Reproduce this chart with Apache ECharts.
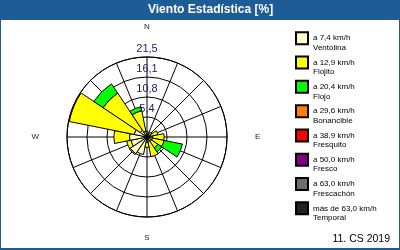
<!DOCTYPE html>
<html><head><meta charset="utf-8">
<script src="https://cdn.jsdelivr.net/npm/echarts@6/dist/echarts.min.js"></script>
<style>html,body{margin:0;padding:0;background:#fff}#c{width:400px;height:250px}</style>
</head><body><div id="c"></div>
<script>
const directions = ['N','NNE','NE','ENE','E','ESE','SE','SSE','S','SSW','SW','WSW','W','WNW','NW','NNW'];
const ringLabels = ['5,4','10,8','16,1','21,5'];
const speedLabels = ['a 7,4 km/h','a 12,9 km/h','a 20,4 km/h','a 29,6 km/h','a 38,9 km/h','a 50,0 km/h','a 63,0 km/h','más de 63,0 km/h'];
const beaufortNames = ['Ventolina','Flojito','Flojo','Bonancible','Fresquito','Fresco','Frescachón','Temporal'];

const ventolina  = [0.8, 0.6, 0.7, 1.0, 1.5, 1.5, 1.3, 1.2, 1.5, 4.8, 5.4, 4.4, 4.7, 3.5, 2.2, 1.6];
const flojito    = [0.7, 0.5, 0.8, 2.0, 3.1, 3.2, 2.2, 4.2, 1.3, 0.0, 0.3, 1.2, 4.2, 17.8, 12.0, 5.6];
const flojo      = [0, 0, 0, 0, 0, 5.0, 1.3, 0, 0, 0, 0, 0, 0, 0, 3.0, 1.1];
const bonancible = [0, 0, 0, 0, 0, 0, 0, 0, 0, 0, 0, 0, 0, 0, 0, 0];
const fresquito  = [0, 0, 0, 0, 0, 0, 0, 0, 0, 0, 0, 0, 0, 0, 0, 0];
const fresco     = [0, 0, 0, 0, 0, 0, 0, 0, 0, 0, 0, 0, 0, 0, 0, 0];
const frescachon = [0, 0, 0, 0, 0, 0, 0, 0, 0, 0, 0, 0, 0, 0, 0, 0];
const temporal   = [0, 0, 0, 0, 0, 0, 0, 0, 0, 0, 0, 0, 0, 0, 0, 0];
const seriesValues = [ventolina, flojito, flojo, bonancible, fresquito, fresco, frescachon, temporal];
const colors = ['#ffffc6','#ffff00','#00ff00','#ff8000','#ff0000','#800080','#6e6e6e','#222222'];

const chart = echarts.init(document.getElementById('c'), null, {renderer:'canvas'});
const C = [147, 137], R = 80;
const FONT = 'Liberation Sans';

chart.setOption({
  animation: false,
  title: [
    {text: 'Viento Estadística [%]', left: 148, top: 4, padding: 0,
     textStyle: {color:'#fff', fontSize:12, fontWeight:'bold', fontFamily: FONT}},
    {text: '11. CS 2019', right: 10, bottom: 5, padding: 0,
     textStyle: {color:'#000', fontSize:10.5, fontWeight:'normal', fontFamily: FONT}}
  ],
  graphic: [
    {type:'rect', z:-1, shape:{x:0,y:0,width:400,height:20}, style:{fill:'#1d5c96'}},
    {type:'rect', z:-1, shape:{x:0,y:0,width:400,height:250}, style:{fill:'none', stroke:'#1d5c96', lineWidth:2}},
    {type:'rect', z:-1, shape:{x:0,y:248,width:400,height:2}, style:{fill:'#1d5c96'}}
  ],
  legend: {
    orient:'vertical', left:295, top:24, padding:0, itemGap:-4.2,
    itemWidth:12, itemHeight:12, icon:'rect',
    data: beaufortNames,
    formatter: function(name){ return '\n' + speedLabels[beaufortNames.indexOf(name)] + '\n' + name; },
    textStyle: {fontSize:8, lineHeight:9.5, color:'#000', fontFamily: FONT}
  },
  polar: [
    {center: C, radius: R},
    {center: C, radius: R},
    {center: C, radius: R}
  ],
  angleAxis: [
    {polarIndex:0, type:'category', data: directions, startAngle: 101.25, clockwise: true,
     boundaryGap: true, z: 3,
     axisLine:{show:false}, axisTick:{show:false}, splitLine:{show:false},
     axisLabel:{interval:3, margin:17,
       formatter: function(v){ return '{' + v + '|' + v + '}'; },
       rich: {
         N:{fontSize:8, color:'#222', fontFamily:FONT, padding:[0,0,9,0]},
         S:{fontSize:8, color:'#222', fontFamily:FONT},
         E:{fontSize:8, color:'#222', fontFamily:FONT, padding:[0,0,0,11]},
         W:{fontSize:8, color:'#222', fontFamily:FONT, padding:[0,11,0,0]}
       }}},
    {polarIndex:1, type:'value', min:0, max:360, interval:22.5, startAngle:90, clockwise:true,
     axisLine:{show:true, lineStyle:{color:'#000', width:1}}, axisTick:{show:false}, axisLabel:{show:false},
     splitLine:{show:true, lineStyle:{color:'#000', width:1}}},
    {polarIndex:2, type:'value', min:0, max:360, startAngle:90, show:false}
  ],
  radiusAxis: [
    {polarIndex:0, type:'value', min:0, max:21.5, show:false},
    {polarIndex:1, type:'value', min:0, max:21.5, interval:5.375,
     axisLine:{show:false}, axisTick:{show:false}, axisLabel:{show:false},
     splitLine:{show:true, lineStyle:{color:'#000', width:1}}},
    {polarIndex:2, type:'value', min:0, max:21.5, interval:5.375, z:10,
     axisLine:{show:false}, axisTick:{show:false}, splitLine:{show:false},
     axisLabel:{show:true, showMinLabel:false, margin:0, align:'center', verticalAlign:'bottom',
       padding:[0,0,3,0], fontSize:11, color:'#1c1c6c', fontFamily:FONT,
       formatter: function(v, i){ return i > 0 ? ringLabels[i-1] : ''; }}}
  ],
  series: beaufortNames.map(function(name, k){
    return {
      type:'bar', name: name, coordinateSystem:'polar', polarIndex:0, stack:'w',
      barCategoryGap:'0%',
      itemStyle:{color: colors[k], borderColor:'#000', borderWidth:1},
      data: seriesValues[k].map(function(v){ return v === 0 ? '-' : v; })
    };
  })
});
</script></body></html>
